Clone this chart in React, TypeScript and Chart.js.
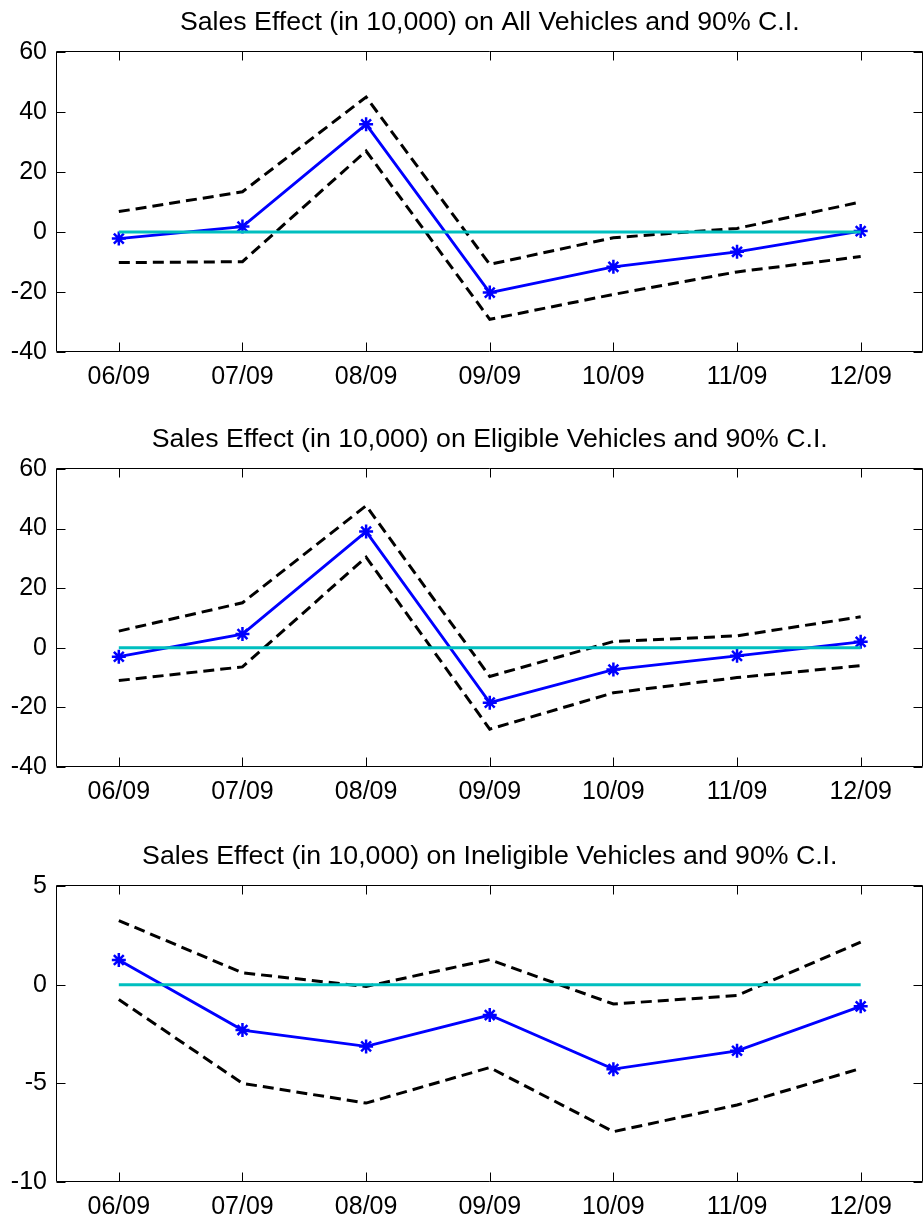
import React, { useEffect, useRef } from "react";
import { Chart, registerables } from "chart.js";

Chart.register(...registerables);

// ---- data ----
const months = ["06/09", "07/09", "08/09", "09/09", "10/09", "11/09", "12/09"];

const allTitle = "Sales Effect (in 10,000) on All Vehicles and 90% C.I.";
const allEffect = [-2.2, 1.8, 35.9, -20.2, -11.6, -6.6, 0.3];
const allUpper = [6.8, 13.4, 45, -10.8, -1.9, 1.2, 10];
const allLower = [-10.2, -9.9, 27, -29.1, -20.8, -13.3, -8.2];
const allTicks = [-40, -20, 0, 20, 40, 60];

const eligTitle = "Sales Effect (in 10,000) on Eligible Vehicles and 90% C.I.";
const eligEffect = [-3.0, 4.6, 39.0, -18.4, -7.3, -2.7, 2.0];
const eligUpper = [5.6, 15.1, 47.7, -9.6, 2.1, 4.0, 10.4];
const eligLower = [-11.0, -6.4, 30.4, -27.3, -15.1, -10.0, -6.0];
const eligTicks = [-40, -20, 0, 20, 40, 60];

const inelTitle = "Sales Effect (in 10,000) on Ineligible Vehicles and 90% C.I.";
const inelEffect = [1.25, -2.3, -3.13, -1.54, -4.28, -3.35, -1.1];
const inelUpper = [3.25, 0.6, -0.09, 1.27, -0.98, -0.55, 2.15];
const inelLower = [-0.75, -5.0, -6.0, -4.2, -7.45, -6.1, -4.25];
const inelTicks = [-10, -5, 0, 5];

const zeroLine = months.map(() => 0);

const FONT = "Arial, 'Liberation Sans', Helvetica, sans-serif";

const framePlugin = {
  id: "matlabFrame",
  afterDraw(chart: any) {
    const { ctx, chartArea: a, scales } = chart;
    const xs = scales.x;
    const ys = scales.y;
    const L = 9;
    ctx.save();
    ctx.strokeStyle = "#000";
    ctx.lineWidth = 1;
    ctx.beginPath();
    const left = Math.round(a.left) - 0.5;
    const right = Math.round(a.right) - 0.5;
    const top = Math.round(a.top) - 0.5;
    const bottom = Math.round(a.bottom) - 0.5;
    ctx.moveTo(left, top);
    ctx.lineTo(right, top);
    ctx.lineTo(right, bottom);
    ctx.lineTo(left, bottom);
    ctx.closePath();
    xs.ticks.forEach((_: any, i: number) => {
      const px = Math.round(xs.getPixelForTick(i)) + 0.5;
      ctx.moveTo(px, bottom);
      ctx.lineTo(px, bottom - L);
      ctx.moveTo(px, top);
      ctx.lineTo(px, top + L);
    });
    ys.ticks.forEach((_: any, i: number) => {
      const py = Math.round(ys.getPixelForTick(i)) + 0.5;
      ctx.moveTo(left, py);
      ctx.lineTo(left + L, py);
      ctx.moveTo(right, py);
      ctx.lineTo(right - L, py);
    });
    ctx.stroke();
    ctx.restore();
  },
};

function makeConfig(
  title: string,
  effect: number[],
  upper: number[],
  lower: number[],
  ticks: number[],
  xAxisHeight: number
): any {
  return {
    type: "line",
    data: {
      labels: months,
      datasets: [
        {
          data: zeroLine,
          borderColor: "#00BFBF",
          borderWidth: 3,
          pointRadius: 0,
          tension: 0,
        },
        {
          data: effect,
          borderColor: "#0000FF",
          borderWidth: 2.8,
          pointStyle: "star",
          pointRadius: 7,
          pointBorderWidth: 2.5,
          pointBorderColor: "#0000FF",
          pointBackgroundColor: "#0000FF",
          tension: 0,
        },
        {
          data: upper,
          borderColor: "#000000",
          borderWidth: 3,
          borderDash: [11, 6],
          pointRadius: 0,
          tension: 0,
        },
        {
          data: lower,
          borderColor: "#000000",
          borderWidth: 3,
          borderDash: [11, 6],
          pointRadius: 0,
          tension: 0,
        },
      ],
    },
    options: {
      animation: false,
      responsive: false,
      maintainAspectRatio: false,
      devicePixelRatio: 1,
      layout: { padding: { left: 0, right: 3, top: 0, bottom: 0 } },
      plugins: {
        legend: { display: false },
        tooltip: { enabled: false },
        title: { display: false },
      },
      scales: {
        x: {
          type: "category",
          position: "bottom",
          offset: true,
          grid: { display: false, drawTicks: false },
          border: { display: false },
          ticks: {
            color: "#000",
            font: { family: FONT, size: 25 },
            padding: 10,
            maxRotation: 0,
            autoSkip: false,
          },
          afterFit: (s: any) => {
            s.height = xAxisHeight;
          },
        },
        xTop: {
          type: "category",
          position: "top",
          offset: true,
          grid: { display: false, drawTicks: false },
          border: { display: false },
          ticks: { display: false },
          title: {
            display: true,
            text: title,
            color: "#000",
            font: { family: FONT, size: 26.7, weight: "normal", lineHeight: 1.2 },
            padding: { top: 7, bottom: 0 },
          },
          afterFit: (s: any) => {
            s.height = 52;
          },
        },
        y: {
          type: "linear",
          min: ticks[0],
          max: ticks[ticks.length - 1],
          grid: { display: false, drawTicks: false },
          border: { display: false },
          afterBuildTicks: (s: any) => {
            s.ticks = ticks.map((v) => ({ value: v }));
          },
          ticks: {
            color: "#000",
            font: { family: FONT, size: 25 },
            padding: 10,
            callback: (v: any) => String(v),
          },
          afterFit: (s: any) => {
            s.width = 57;
          },
        },
      },
    },
    plugins: [framePlugin],
  };
}

function Panel(props: {
  top: number;
  height: number;
  title: string;
  effect: number[];
  upper: number[];
  lower: number[];
  ticks: number[];
  xAxisHeight: number;
}) {
  const ref = useRef<HTMLCanvasElement | null>(null);
  useEffect(() => {
    const c = ref.current;
    if (!c) return;
    const chart = new Chart(
      c,
      makeConfig(props.title, props.effect, props.upper, props.lower, props.ticks, props.xAxisHeight)
    );
    return () => chart.destroy();
  }, []);
  return (
    <canvas
      ref={ref}
      width={932}
      height={props.height}
      style={{ position: "absolute", left: 0, top: props.top, width: 932, height: props.height }}
    />
  );
}

export default function App() {
  useEffect(() => {
    document.body.style.margin = "0";
    document.body.style.background = "#fff";
  }, []);
  return (
    <div
      style={{
        position: "relative",
        width: 923,
        height: 1218,
        overflow: "hidden",
        background: "#fff",
      }}
    >
      <Panel top={0} height={400} title={allTitle} effect={allEffect} upper={allUpper} lower={allLower} ticks={allTicks} xAxisHeight={48} />
      <Panel top={417} height={398} title={eligTitle} effect={eligEffect} upper={eligUpper} lower={eligLower} ticks={eligTicks} xAxisHeight={48} />
      <Panel top={834} height={384} title={inelTitle} effect={inelEffect} upper={inelUpper} lower={inelLower} ticks={inelTicks} xAxisHeight={36} />
    </div>
  );
}
